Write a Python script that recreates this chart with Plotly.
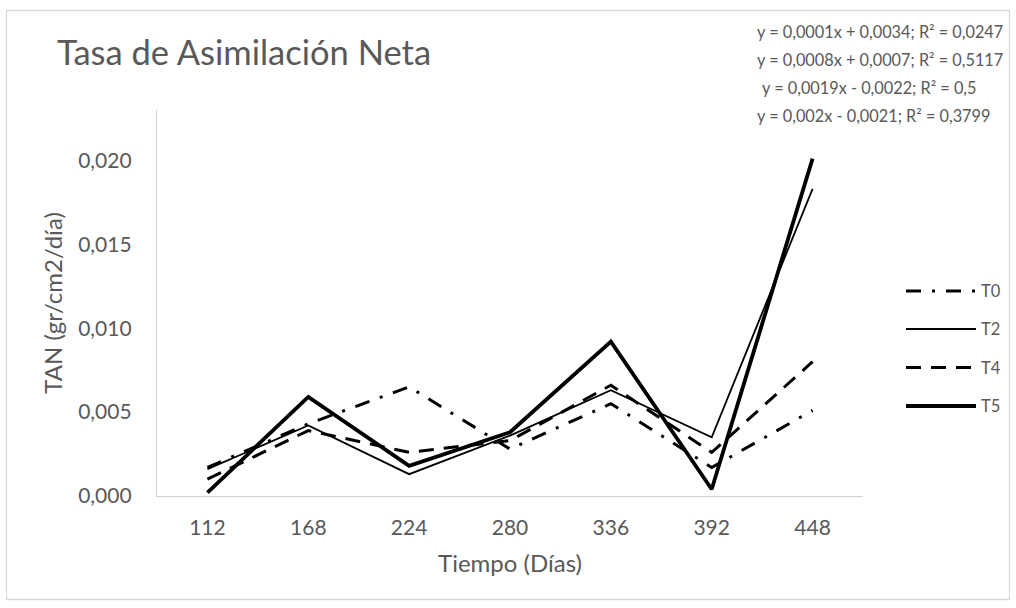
import plotly.graph_objects as go

# Days after planting (category axis) and net assimilation rate per treatment
dias = ["112", "168", "224", "280", "336", "392", "448"]
t0 = [0.0017, 0.0043, 0.0065, 0.0028, 0.0055, 0.0017, 0.0051]
t2 = [0.0016, 0.0042, 0.0013, 0.0036, 0.0063, 0.0035, 0.0183]
t4 = [0.0010, 0.0039, 0.0026, 0.0033, 0.0066, 0.0026, 0.0080]
t5 = [0.0002, 0.0059, 0.0018, 0.0038, 0.0092, 0.0004, 0.0201]

ecuaciones = [
    "y = 0,0001x + 0,0034; R² = 0,0247",
    "y = 0,0008x + 0,0007; R² = 0,5117",
    "y = 0,0019x - 0,0022; R² = 0,5",
    "y = 0,002x - 0,0021; R² = 0,3799",
]

W, H = 1016, 608
ML, MR, MT, MB = 157, 153, 110, 112
PW, PH = W - ML - MR, H - MT - MB
FONT = "Lato"
GRIS = "#595959"


def px_x(x):
    return (x - ML) / PW


def px_y(y):
    return (H - MB - y) / PH


series = [
    ("T0", t0, dict(color="black", width=3, dash="15px,11px,3px,11px")),
    ("T2", t2, dict(color="black", width=1.8)),
    ("T4", t4, dict(color="black", width=3, dash="15px,10px")),
    ("T5", t5, dict(color="black", width=3.8)),
]

fig = go.Figure()
for nombre, vals, estilo in series:
    fig.add_trace(go.Scatter(
        x=dias, y=vals, name=nombre, mode="lines", line=estilo,
        showlegend=False,
    ))

fig.update_layout(
    width=W, height=H,
    margin=dict(l=ML, r=MR, t=MT, b=MB, pad=0),
    paper_bgcolor="white", plot_bgcolor="white",
    separators=",.",
    font=dict(family=FONT, color=GRIS, size=21),
    title=dict(
        text="Tasa de Asimilación Neta",
        font=dict(family=FONT, size=34.5, color=GRIS),
        xref="container", yref="container",
        x=57 / W, xanchor="left", y=1 - 53 / H, yanchor="middle",
    ),
    xaxis=dict(
        type="category", range=[-0.5, len(dias) - 0.5],
        showgrid=False, zeroline=False,
        showline=True, linecolor="#d0d0d0", linewidth=1.3,
        ticks="", tickfont=dict(size=21, color=GRIS),
        ticklabelstandoff=13,
        title=dict(text="Tiempo (Días)", font=dict(size=24, color=GRIS), standoff=16),
    ),
    yaxis=dict(
        range=[0, 0.023], dtick=0.005, tick0=0, tickformat=".3f",
        showgrid=False, zeroline=False,
        showline=True, linecolor="#d0d0d0", linewidth=1.3,
        ticks="", tickfont=dict(size=21, color=GRIS),
        ticklabelstandoff=20,
        title=dict(text="TAN (gr/cm2/día)", font=dict(size=24, color=GRIS), standoff=8),
    ),
    showlegend=False,
)

# Outer chart frame
fig.add_shape(
    type="rect", xref="paper", yref="paper",
    x0=px_x(6.5), x1=px_x(1009.5), y0=px_y(599.5), y1=px_y(10.5),
    line=dict(color="#d9d9d9", width=1.3), fillcolor="rgba(0,0,0,0)", layer="below",
)

# Legend: long line samples with the series' own styles
leg_y = [291, 329, 367.5, 406]
for (nombre, _vals, estilo), yy in zip(series, leg_y):
    fig.add_shape(
        type="line", xref="paper", yref="paper",
        x0=px_x(906), x1=px_x(976), y0=px_y(yy), y1=px_y(yy),
        line=estilo,
    )
    fig.add_annotation(
        text=nombre, xref="paper", yref="paper",
        x=px_x(979), y=px_y(yy), xanchor="left", yanchor="middle",
        showarrow=False, font=dict(family=FONT, size=16.5, color=GRIS),
    )

# Trendline equations
eq_y = [32, 59.5, 87, 115]
eq_x = [755, 755, 760, 755]
for texto, yy, xx in zip(ecuaciones, eq_y, eq_x):
    fig.add_annotation(
        text=texto, xref="paper", yref="paper",
        x=px_x(xx), y=px_y(yy), xanchor="left", yanchor="middle",
        showarrow=False, font=dict(family=FONT, size=16.3, color=GRIS),
    )

fig.write_html("out.html")
